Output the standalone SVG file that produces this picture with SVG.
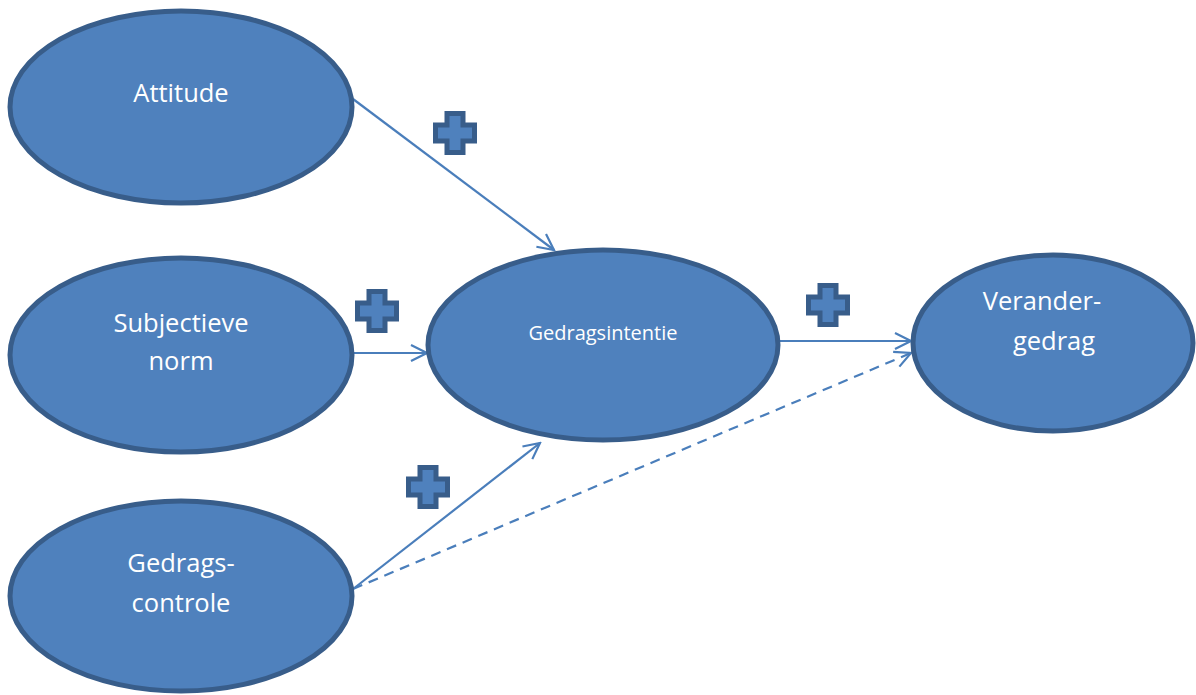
<svg xmlns="http://www.w3.org/2000/svg" width="1196" height="695" viewBox="0 0 1196 695">
<style>
.node{fill:#4f81bd;stroke:#385d8a;stroke-width:5}
.lbl{fill:#ffffff;font-family:"Open Sans","Liberation Sans",sans-serif;font-size:25.5px;text-anchor:middle}
.small{font-size:20px}
.conn{stroke:#4a7ebb;stroke-width:2.2;fill:none}
.dash{stroke-dasharray:10,7}
.plus{fill:#4f81bd;stroke:#385d8a;stroke-width:5}
</style>
<defs>
<marker id="arr" viewBox="0 0 20 20" refX="18" refY="10" markerWidth="20" markerHeight="20" markerUnits="userSpaceOnUse" orient="auto">
<path d="M2,2 L18,10 L2,18" fill="none" stroke="#4a7ebb" stroke-width="2.2"/>
</marker>
<path id="plusShape" d="M-8,-19.5 H8 V-8 H19.5 V8 H8 V19.5 H-8 V8 H-19.5 V-8 H-8 Z"/>
</defs>
<rect width="1196" height="695" fill="#ffffff"/>
<g id="connectors">
<line class="conn" x1="353" y1="99" x2="554" y2="250" marker-end="url(#arr)"/>
<line class="conn" x1="353" y1="353" x2="427" y2="353" marker-end="url(#arr)"/>
<line class="conn" x1="353" y1="589" x2="540" y2="443" marker-end="url(#arr)"/>
<line class="conn dash" x1="353" y1="589" x2="911" y2="353" marker-end="url(#arr)"/>
<line class="conn" x1="779" y1="341" x2="911" y2="341" marker-end="url(#arr)"/>
</g>
<g id="node-attitude">
<ellipse class="node" cx="181" cy="107" rx="171" ry="96"/>
<text class="lbl" x="181" y="102">Attitude</text>
</g>
<g id="node-subjectieve-norm">
<ellipse class="node" cx="181" cy="355" rx="171" ry="97"/>
<text class="lbl" x="181" y="332">Subjectieve</text>
<text class="lbl" x="181" y="370">norm</text>
</g>
<g id="node-gedragscontrole">
<ellipse class="node" cx="181" cy="596" rx="171" ry="95"/>
<text class="lbl" x="181" y="572">Gedrags-</text>
<text class="lbl" x="181" y="612">controle</text>
</g>
<g id="node-gedragsintentie">
<ellipse class="node" cx="603" cy="345" rx="175" ry="95"/>
<text class="lbl small" x="603" y="340">Gedragsintentie</text>
</g>
<g id="node-verandergedrag">
<ellipse class="node" cx="1053" cy="343" rx="140" ry="88"/>
<text class="lbl" x="1042" y="310">Verander-</text>
<text class="lbl" x="1054" y="350">gedrag</text>
</g>
<g id="plus-signs">
<use href="#plusShape" class="plus" transform="translate(455,133)"/>
<use href="#plusShape" class="plus" transform="translate(377,311)"/>
<use href="#plusShape" class="plus" transform="translate(828,305)"/>
<use href="#plusShape" class="plus" transform="translate(428,487)"/>
</g>
</svg>
